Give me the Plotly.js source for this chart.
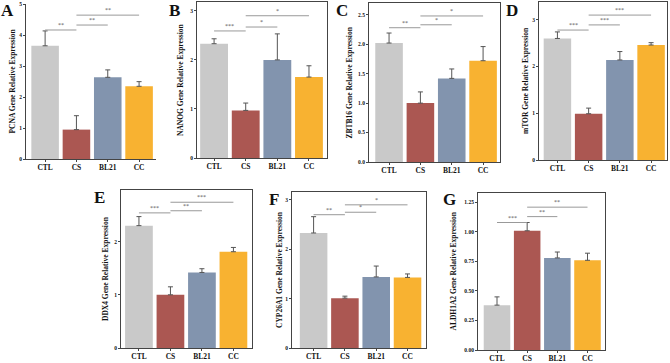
<!DOCTYPE html>
<html><head><meta charset="utf-8">
<script src="https://cdn.plot.ly/plotly-3.0.1.min.js"></script>
<style>html,body{margin:0;padding:0;background:#fff}#chart{width:670px;height:363px}</style>
</head><body><div id="chart"></div>
<script>
// ---- data ----
const groups = ['CTL', 'CS', 'BL21', 'CC'];
const genes = ['PCNA', 'NANOG', 'ZBTB16', 'mTOR', 'DDX4', 'CYP26A1', 'ALDH1A2'];
const panelLetters = ['A', 'B', 'C', 'D', 'E', 'F', 'G'];

const pcna = [3.66, 0.95, 2.64, 2.35];
const pcnaErr = [0.48, 0.45, 0.24, 0.15];
const nanog = [2.33, 0.97, 2.00, 1.65];
const nanogErr = [0.10, 0.15, 0.53, 0.23];
const zbtb16 = [2.02, 1.00, 1.42, 1.72];
const zbtb16Err = [0.17, 0.19, 0.16, 0.24];
const mtor = [2.60, 0.99, 2.14, 2.46];
const mtorErr = [0.14, 0.12, 0.18, 0.05];
const ddx4 = [2.30, 1.00, 1.42, 1.81];
const ddx4Err = [0.17, 0.15, 0.07, 0.08];
const cyp26a1 = [2.33, 1.01, 1.44, 1.43];
const cyp26a1Err = [0.33, 0.04, 0.22, 0.07];
const aldh1a2 = [0.38, 1.01, 0.78, 0.76];
const aldh1a2Err = [0.07, 0.07, 0.05, 0.06];

// significance comparisons: pairs of group indices, star labels, bracket heights (data units)
const sigPairs = [[0, 1], [1, 2], [1, 3]];
const sigA = ['**', '**', '**'];       const sigAy = [4.17, 4.33, 4.65];
const sigB = ['***', '*', '*'];        const sigBy = [2.59, 2.67, 2.90];
const sigC = ['**', '*', '*'];         const sigCy = [2.28, 2.33, 2.48];
const sigD = ['***', '***', '***'];    const sigDy = [2.78, 2.89, 3.10];
const sigE = ['***', '**', '***'];     const sigEy = [2.54, 2.58, 2.74];
const sigF = ['**', '*', '*'];         const sigFy = [2.70, 2.75, 2.90];
const sigG = ['***', '**', '**'];      const sigGy = [1.08, 1.13, 1.21];

// ---- styling / layout ----
const colors = ['#C9C9C9', '#AB5752', '#8294AE', '#F8B231'];
const W = 670, H = 363;
const FONT = 'Liberation Serif, Times New Roman, serif';

const panels = [
  {vals: pcna, err: pcnaErr, sig: sigA, sigY: sigAy, box: [26, 156, 4, 159], xr: [-0.61, 3.54], yr: [0, 5.01], dt: 1, fmt: 'd', mirror: false, tx: 12, lx: 7, ly: 11},
  {vals: nanog, err: nanogErr, sig: sigB, sigY: sigBy, box: [197, 327, 2, 158], xr: [-0.54, 3.57], yr: [0, 3.18], dt: 1, fmt: 'd', mirror: true, tx: 180, lx: 174, ly: 11},
  {vals: zbtb16, err: zbtb16Err, sig: sigC, sigY: sigCy, box: [369, 500, 3, 162], xr: [-0.64, 3.54], yr: [0, 2.70], dt: 0.5, fmt: '.1f', mirror: true, tx: 349, lx: 342, ly: 11},
  {vals: mtor, err: mtorErr, sig: sigD, sigY: sigDy, box: [539, 667, 2, 160], xr: [-0.59, 3.51], yr: [0, 3.38], dt: 1, fmt: 'd', mirror: true, tx: 525, lx: 512, ly: 11},
  {vals: ddx4, err: ddx4Err, sig: sigE, sigY: sigEy, box: [121, 252, 190, 348], xr: [-0.57, 3.59], yr: [0, 2.97], dt: 1, fmt: 'd', mirror: true, tx: 105, lx: 100, ly: 198},
  {vals: cyp26a1, err: cyp26a1Err, sig: sigF, sigY: sigFy, box: [292, 426, 192, 348], xr: [-0.69, 3.59], yr: [0, 3.16], dt: 1, fmt: 'd', mirror: true, tx: 279, lx: 274, ly: 199},
  {vals: aldh1a2, err: aldh1a2Err, sig: sigG, sigY: sigGy, box: [478, 605, 193, 350], xr: [-0.63, 3.58], yr: [0, 1.33], dt: 0.25, fmt: '.2f', mirror: true, tx: 453, lx: 449, ly: 199}
];

const data = [];
const layout = {
  width: W, height: H,
  margin: {l: 0, r: 0, t: 0, b: 0},
  paper_bgcolor: '#fff', plot_bgcolor: '#fff',
  showlegend: false,
  font: {family: FONT, color: '#111'},
  annotations: [], shapes: []
};

panels.forEach((p, i) => {
  const n = i === 0 ? '' : String(i + 1);
  const xa = 'x' + n, ya = 'y' + n;
  const [l, r, t, b] = p.box;
  data.push({
    type: 'bar', x: groups.map((g, k) => k), y: p.vals,
    xaxis: xa, yaxis: ya, width: 0.88,
    marker: {color: colors, line: {width: 0}},
    error_y: {type: 'data', symmetric: false, array: p.err, arrayminus: p.err.map(() => 0),
              color: '#555', thickness: 1, width: 2.5},
    hoverinfo: 'skip'
  });
  layout['xaxis' + n] = {
    domain: [l / W, r / W], anchor: ya, range: p.xr, fixedrange: true,
    tickmode: 'array', tickvals: groups.map((g, k) => k), ticktext: groups,
    ticks: 'outside', ticklen: 2, tickwidth: 1, tickcolor: '#444',
    ticklabelstandoff: -1, ticklabeloverflow: 'allow',
    showgrid: false, zeroline: false, showline: true, linecolor: '#444', linewidth: 1,
    mirror: p.mirror,
    tickfont: {family: FONT, size: 7.5, color: '#111', weight: 'bold'}
  };
  layout['yaxis' + n] = {
    domain: [(H - b) / H, (H - t) / H], anchor: xa, range: p.yr, fixedrange: true,
    dtick: p.dt, tick0: 0, tickformat: p.fmt, ticklabeloverflow: 'allow',
    ticks: 'outside', ticklen: 2, tickwidth: 1, tickcolor: '#444',
    showgrid: false, zeroline: false, showline: true, linecolor: '#444', linewidth: 1,
    mirror: p.mirror,
    tickfont: {family: FONT, size: 5.5, color: '#111', weight: 'bold'}
  };
  // y-axis title
  layout.annotations.push({
    xref: 'paper', yref: 'paper', x: p.tx / W, y: (H - (t + b) / 2) / H,
    text: genes[i] + ' Gene Relative Expression', textangle: -90, showarrow: false,
    xanchor: 'center', yanchor: 'middle',
    font: {family: FONT, size: 7.5, color: '#111', weight: 'bold'}
  });
  // panel letter
  layout.annotations.push({
    xref: 'paper', yref: 'paper', x: p.lx / W, y: (H - p.ly) / H,
    text: '<b>' + panelLetters[i] + '</b>', showarrow: false,
    xanchor: 'center', yanchor: 'middle',
    font: {family: FONT, size: 17, color: '#111'}
  });
  // significance brackets
  sigPairs.forEach((pr, k) => {
    layout.shapes.push({
      type: 'line', xref: xa, yref: ya, x0: pr[0], x1: pr[1], y0: p.sigY[k], y1: p.sigY[k],
      line: {color: '#999', width: 1}
    });
    layout.annotations.push({
      xref: xa, yref: ya, x: (pr[0] + pr[1]) / 2, y: p.sigY[k],
      text: p.sig[k], showarrow: false, xanchor: 'center', yanchor: 'bottom',
      font: {family: FONT, size: 6, color: '#555'}
    });
  });
});

Plotly.newPlot('chart', data, layout, {staticPlot: true, displayModeBar: false});
</script>
</body></html>
